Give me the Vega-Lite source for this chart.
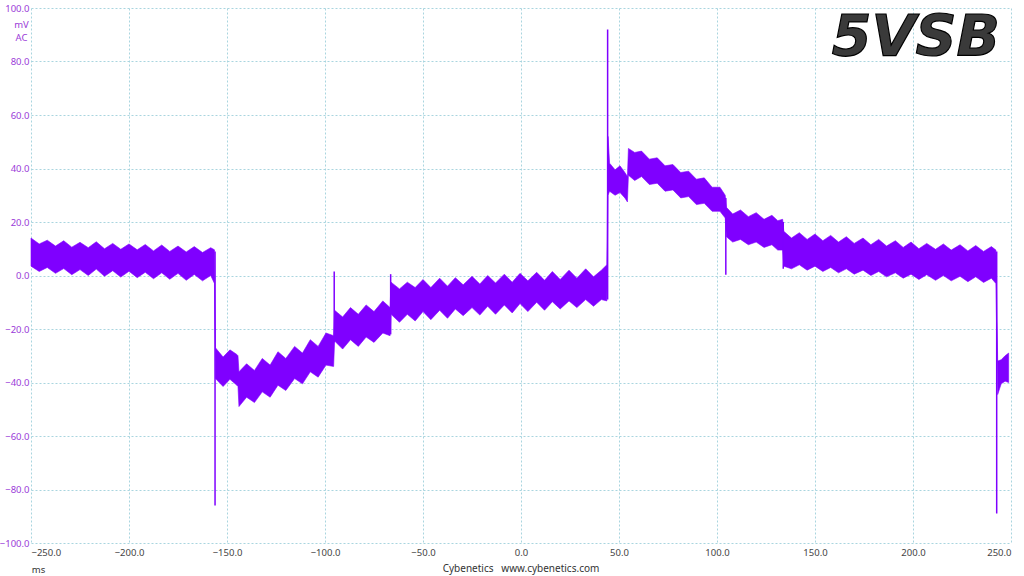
{
  "$schema": "https://vega.github.io/schema/vega-lite/v6.json",
  "width": 980,
  "height": 535,
  "autosize": {"type": "none"},
  "padding": {"left": 31, "top": 8, "right": 13, "bottom": 33},
  "background": "white",
  "title": {
    "text": "Cybenetics\u00a0\u00a0\u00a0www.cybenetics.com",
    "orient": "bottom",
    "anchor": "middle",
    "offset": -10,
    "font": "Noto Sans",
    "fontSize": 10,
    "fontWeight": "normal",
    "color": "#333333"
  },
  "config": {
    "view": {"stroke": null},
    "axis": {
      "grid": true,
      "gridColor": "#a9d5df",
      "gridDash": [2, 2],
      "gridWidth": 1,
      "domain": false,
      "ticks": false,
      "labelFont": "Noto Sans",
      "labelFontSize": 9.5,
      "titleFont": "Noto Sans",
      "titleFontSize": 9.5,
      "titleFontWeight": "normal"
    }
  },
  "datasets": {
    "band": [
      {"t": -250, "hi": 14.0, "lo": 3.5},
      {"t": -245.8, "hi": 11.8, "lo": 1.5},
      {"t": -241.7, "hi": 13.2, "lo": 3.0},
      {"t": -237.5, "hi": 11.0, "lo": 0.8},
      {"t": -233.3, "hi": 13.0, "lo": 2.6},
      {"t": -229.2, "hi": 10.6, "lo": 0.3},
      {"t": -225, "hi": 12.4, "lo": 2.2},
      {"t": -220.8, "hi": 10.4, "lo": 0.0},
      {"t": -216.7, "hi": 12.6, "lo": 2.4},
      {"t": -212.5, "hi": 10.0, "lo": -0.3},
      {"t": -208.3, "hi": 12.0, "lo": 1.8},
      {"t": -204.2, "hi": 9.8, "lo": -0.6},
      {"t": -200, "hi": 11.8, "lo": 1.6},
      {"t": -195.8, "hi": 9.6, "lo": -0.8},
      {"t": -191.7, "hi": 11.6, "lo": 1.2},
      {"t": -187.5, "hi": 9.2, "lo": -1.2},
      {"t": -183.3, "hi": 11.4, "lo": 1.0},
      {"t": -179.2, "hi": 9.0, "lo": -1.4},
      {"t": -175, "hi": 11.0, "lo": 0.8},
      {"t": -170.8, "hi": 8.8, "lo": -1.8},
      {"t": -166.7, "hi": 10.8, "lo": 0.4},
      {"t": -162.5, "hi": 8.6, "lo": -2.0},
      {"t": -158.3, "hi": 10.4, "lo": 0.0},
      {"t": -156.4, "hi": 9.6, "lo": -3.0},
      {"t": -155.9, "hi": -27.0, "lo": -38.5},
      {"t": -152, "hi": -30.5, "lo": -41.5},
      {"t": -148.5, "hi": -27.8, "lo": -38.8},
      {"t": -145, "hi": -29.5, "lo": -41.0},
      {"t": -144.4, "hi": -30.0, "lo": -41.5},
      {"t": -143.9, "hi": -36.0, "lo": -49.0},
      {"t": -140, "hi": -33.0, "lo": -45.5},
      {"t": -136, "hi": -35.5, "lo": -47.5},
      {"t": -132, "hi": -31.0, "lo": -43.5},
      {"t": -128, "hi": -33.5, "lo": -45.5},
      {"t": -124, "hi": -28.5, "lo": -41.0},
      {"t": -120, "hi": -31.0, "lo": -43.0},
      {"t": -115.5, "hi": -26.5, "lo": -38.5},
      {"t": -111.5, "hi": -29.0, "lo": -40.5},
      {"t": -107.5, "hi": -24.0, "lo": -36.0},
      {"t": -103.5, "hi": -26.5, "lo": -38.0},
      {"t": -99.5, "hi": -21.5, "lo": -33.5},
      {"t": -95.6, "hi": -22.5, "lo": -34.0},
      {"t": -95.1, "hi": -13.0, "lo": -24.5},
      {"t": -91, "hi": -15.5, "lo": -27.5},
      {"t": -87, "hi": -12.0, "lo": -24.0},
      {"t": -83, "hi": -14.5, "lo": -26.5},
      {"t": -79, "hi": -11.0, "lo": -23.0},
      {"t": -75, "hi": -13.5, "lo": -25.0},
      {"t": -70.5, "hi": -9.5, "lo": -21.5},
      {"t": -66.8, "hi": -12.0, "lo": -22.5},
      {"t": -66.3, "hi": -2.5, "lo": -14.5},
      {"t": -62, "hi": -5.0, "lo": -17.5},
      {"t": -58, "hi": -2.5, "lo": -14.5},
      {"t": -54, "hi": -4.5, "lo": -17.0},
      {"t": -50, "hi": -1.5, "lo": -13.5},
      {"t": -46, "hi": -4.5, "lo": -16.5},
      {"t": -41.5, "hi": -1.0, "lo": -13.0},
      {"t": -37.5, "hi": -4.0, "lo": -16.0},
      {"t": -33.5, "hi": -0.8, "lo": -12.5},
      {"t": -29.5, "hi": -3.5, "lo": -15.0},
      {"t": -25, "hi": -0.3, "lo": -12.0},
      {"t": -21, "hi": -3.2, "lo": -14.8},
      {"t": -17, "hi": 0.0, "lo": -11.5},
      {"t": -13, "hi": -2.8, "lo": -14.5},
      {"t": -8.5, "hi": 0.5, "lo": -11.0},
      {"t": -4.5, "hi": -2.5, "lo": -14.0},
      {"t": -0.5, "hi": 0.8, "lo": -10.5},
      {"t": 3.5, "hi": -2.0, "lo": -13.5},
      {"t": 8, "hi": 1.2, "lo": -10.0},
      {"t": 12, "hi": -1.8, "lo": -13.0},
      {"t": 16, "hi": 1.5, "lo": -9.8},
      {"t": 20, "hi": -1.5, "lo": -12.5},
      {"t": 24.5, "hi": 2.0, "lo": -9.5},
      {"t": 28.5, "hi": -1.0, "lo": -12.0},
      {"t": 33, "hi": 2.5, "lo": -9.0},
      {"t": 37, "hi": -0.5, "lo": -11.5},
      {"t": 41, "hi": 2.0, "lo": -9.0},
      {"t": 43.8, "hi": 4.0, "lo": -9.5},
      {"t": 44.4, "hi": 52.0, "lo": 30.0},
      {"t": 45.2, "hi": 42.0, "lo": 31.5},
      {"t": 48, "hi": 39.5, "lo": 30.0},
      {"t": 50.5, "hi": 41.0, "lo": 31.0},
      {"t": 53, "hi": 38.5, "lo": 29.0},
      {"t": 54.3, "hi": 37.0, "lo": 27.5},
      {"t": 54.8, "hi": 47.5, "lo": 37.5},
      {"t": 58, "hi": 46.0, "lo": 35.5},
      {"t": 61.5, "hi": 46.5, "lo": 37.0},
      {"t": 65.5, "hi": 43.5, "lo": 34.0},
      {"t": 69.5, "hi": 44.0, "lo": 34.5},
      {"t": 73.5, "hi": 41.0, "lo": 31.5},
      {"t": 77.5, "hi": 41.5, "lo": 32.0},
      {"t": 81.5, "hi": 38.5, "lo": 29.0},
      {"t": 85.5, "hi": 39.0, "lo": 29.5},
      {"t": 89.5, "hi": 36.0, "lo": 26.5},
      {"t": 93.5, "hi": 36.5, "lo": 27.0},
      {"t": 97.5, "hi": 33.0, "lo": 24.0},
      {"t": 101.5, "hi": 33.0, "lo": 24.0},
      {"t": 104.2, "hi": 30.0, "lo": 21.5},
      {"t": 104.8, "hi": 25.5, "lo": 14.5},
      {"t": 108, "hi": 23.0, "lo": 12.5},
      {"t": 112, "hi": 24.5, "lo": 13.5},
      {"t": 116, "hi": 22.0, "lo": 11.5},
      {"t": 120, "hi": 23.5, "lo": 12.5},
      {"t": 124, "hi": 21.0, "lo": 10.5},
      {"t": 128, "hi": 22.5, "lo": 11.5},
      {"t": 131, "hi": 20.5, "lo": 9.5},
      {"t": 133.5, "hi": 21.0, "lo": 9.5},
      {"t": 134.1, "hi": 16.5, "lo": 3.5},
      {"t": 138, "hi": 14.0, "lo": 2.5},
      {"t": 142, "hi": 16.0, "lo": 4.0},
      {"t": 146, "hi": 13.5, "lo": 2.0},
      {"t": 150, "hi": 15.5, "lo": 3.5},
      {"t": 154, "hi": 13.0, "lo": 1.5},
      {"t": 158, "hi": 15.0, "lo": 3.0},
      {"t": 162, "hi": 12.5, "lo": 1.0},
      {"t": 166, "hi": 14.5, "lo": 2.5},
      {"t": 170, "hi": 12.0, "lo": 0.5},
      {"t": 174.5, "hi": 14.0, "lo": 2.0},
      {"t": 178.5, "hi": 11.5, "lo": 0.0},
      {"t": 182.5, "hi": 13.5, "lo": 1.5},
      {"t": 186.5, "hi": 11.0, "lo": -0.5},
      {"t": 191, "hi": 13.0, "lo": 1.0},
      {"t": 195, "hi": 10.5, "lo": -1.0},
      {"t": 199, "hi": 12.5, "lo": 0.5},
      {"t": 203, "hi": 10.0, "lo": -1.5},
      {"t": 207, "hi": 12.0, "lo": 0.3},
      {"t": 211.5, "hi": 9.8, "lo": -1.8},
      {"t": 215.5, "hi": 11.8, "lo": 0.0},
      {"t": 219.5, "hi": 9.5, "lo": -2.0},
      {"t": 224, "hi": 11.5, "lo": -0.3},
      {"t": 228, "hi": 9.2, "lo": -2.3},
      {"t": 232, "hi": 11.2, "lo": -0.5},
      {"t": 236, "hi": 9.0, "lo": -2.6},
      {"t": 240, "hi": 10.8, "lo": -1.0},
      {"t": 242.3, "hi": 9.5, "lo": -3.0},
      {"t": 243.2, "hi": -32.0, "lo": -44.5},
      {"t": 245, "hi": -31.5, "lo": -40.5},
      {"t": 247, "hi": -30.0, "lo": -39.5},
      {"t": 248.8, "hi": -29.0, "lo": -40.0}
    ],
    "spikes": [
      {"t": -156.1, "top": 9.0, "bottom": -86.0},
      {"t": -95.3, "top": 1.5, "bottom": -25.0},
      {"t": -66.5, "top": 0.5, "bottom": -22.0},
      {"t": 44.2, "top": 92.0, "bottom": -9.0},
      {"t": 104.5, "top": 29.0, "bottom": 0.3},
      {"t": 133.8, "top": 20.0, "bottom": 2.5},
      {"t": 242.7, "top": 9.0, "bottom": -89.0}
    ]
  },
  "layer": [
    {
      "data": {"name": "band"},
      "mark": {"type": "area", "color": "#7f00ff", "stroke": "#7f00ff", "strokeWidth": 0.6, "opacity": 1},
      "encoding": {
        "x": {
          "field": "t", "type": "quantitative",
          "scale": {"domain": [-250, 250], "nice": false, "zero": false},
          "axis": {
            "values": [-250, -200, -150, -100, -50, 0, 50, 100, 150, 200, 250],
            "format": ".1f",
            "labelColor": "#444444",
            "labelPadding": 4,
            "title": "ms",
            "titleColor": "#333333",
            "titleX": 7,
            "titleY": 29,
            "titleAlign": "center",
            "titleBaseline": "alphabetic"
          }
        },
        "y": {
          "field": "hi", "type": "quantitative",
          "scale": {"domain": [-100, 100], "nice": false, "zero": false},
          "axis": {
            "values": [-100, -80, -60, -40, -20, 0, 20, 40, 60, 80, 100],
            "format": ".1f",
            "labelColor": "#9a3ad8",
            "labelPadding": 2,
            "title": ["mV", "AC"],
            "titleColor": "#9a3ad8",
            "titleAngle": 0,
            "titleX": -10,
            "titleY": 19,
            "titleAlign": "center",
            "titleBaseline": "alphabetic",
            "titleLineHeight": 13
          }
        },
        "y2": {"field": "lo"}
      }
    },
    {
      "data": {"name": "spikes"},
      "mark": {"type": "rule", "color": "#7f00ff", "strokeWidth": 1.5},
      "encoding": {
        "x": {"field": "t", "type": "quantitative"},
        "y": {"field": "top", "type": "quantitative"},
        "y2": {"field": "bottom"}
      }
    },
    {
      "data": {"values": [{"label": "5VSB"}]},
      "mark": {
        "type": "text",
        "font": "DejaVu Sans",
        "fontStyle": "italic",
        "fontWeight": "bold",
        "fontSize": 57,
        "align": "right",
        "baseline": "alphabetic",
        "fill": "#3a3a3a",
        "stroke": "#000000",
        "strokeWidth": 1.2
      },
      "encoding": {
        "x": {"datum": 244.4, "type": "quantitative"},
        "y": {"datum": 82, "type": "quantitative"},
        "text": {"field": "label"}
      }
    }
  ]
}
